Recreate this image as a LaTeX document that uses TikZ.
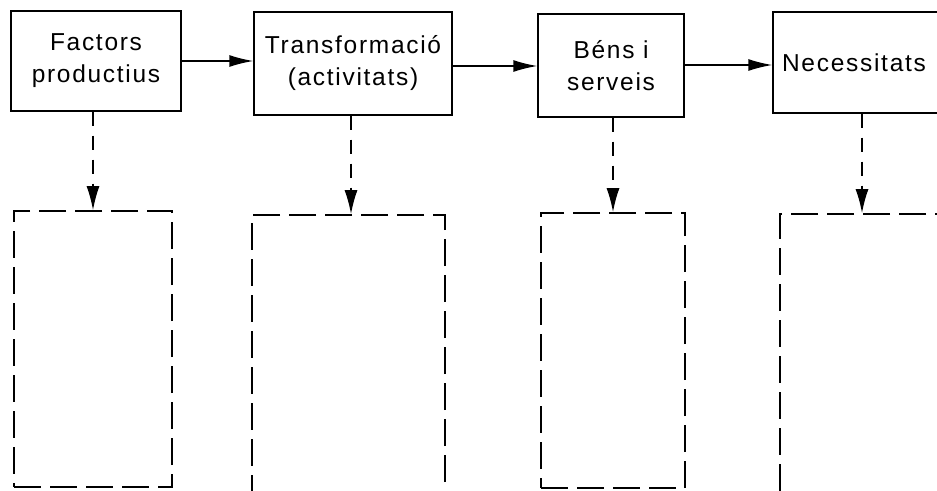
\documentclass[tikz,border=0pt]{standalone}
\usepackage{fontspec}
\setmainfont{Liberation Sans}[LetterSpace=7]
\usetikzlibrary{arrows.meta}
\begin{document}
\begin{tikzpicture}[x=1pt,y=-1pt,
  solidbox/.style={draw=black,line width=1.4pt,rectangle,inner sep=0pt,align=center,
    font=\fontsize{24.5}{32}\selectfont},
  dashbox/.style={draw=black,line width=1.6pt,rectangle,inner sep=0pt,dash pattern=on 27pt off 9pt},
  flowarrow/.style={draw=black,line width=1.4pt,-{Latex[length=24pt,width=12pt]}},
  downarrow/.style={draw=black,line width=1.6pt,dash pattern=on 14pt off 10pt,-{Latex[length=24pt,width=13pt]}}]
\useasboundingbox (0,0) rectangle (937,490);
\clip (0,0) rectangle (937,490);
\node[solidbox,minimum width=170pt,minimum height=100pt] (b1) at (96,61) {Factors\\productius};
\node[solidbox,minimum width=198pt,minimum height=103pt] (b2) at (353,63.5) {Transformació\\(activitats)};
\node[solidbox,minimum width=146pt,minimum height=103pt] (b3) at (611,65.5) {Béns i\\serveis};
\node[solidbox,minimum width=172pt,minimum height=101pt] (b4) at (859,62.5) {};
\node[font=\fontsize{24.5}{32}\selectfont,inner sep=0pt] (t4) at (854,62.5) {Necessitats};
\draw[flowarrow] (b1.east) -- (b1.east -| b2.west);
\draw[flowarrow] (b2.east |- 0,66) -- (b3.west |- 0,66);
\draw[flowarrow] (b3.east |- 0,65) -- (b4.west |- 0,65);
\node[dashbox,minimum width=158pt,minimum height=276pt] (d1) at (93,349) {};
\node[dashbox,minimum width=193pt,minimum height=290pt] (d2) at (348.5,360) {};
\node[dashbox,minimum width=144pt,minimum height=275pt] (d3) at (613,350.5) {};
\node[dashbox,minimum width=180pt,minimum height=290pt] (d4) at (870,359) {};
\draw[downarrow] (d1.north |- b1.south) -- (d1.north);
\draw[downarrow] (351,0 |- b2.south) -- (351,0 |- d2.north);
\draw[downarrow] (d3.north |- b3.south) -- (d3.north);
\draw[downarrow] (862,0 |- b4.south) -- (862,0 |- d4.north);
\end{tikzpicture}
\end{document}
